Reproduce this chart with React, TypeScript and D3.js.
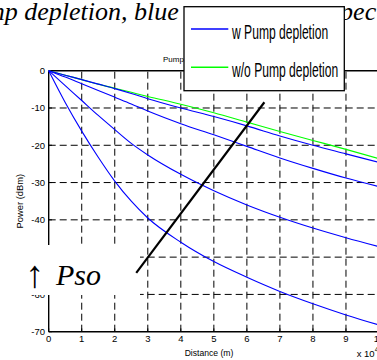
import React from "react";
import * as d3 from "d3";

// Distance samples (x 10^4 m) shared by every series
const distance = [0, 0.5, 1, 1.5, 2, 2.5, 3, 4, 5, 6, 7, 8, 9, 10];

// Signal power (dBm) with pump depletion, four launch conditions
const withDepletion1 = [0, -1.2, -2.4, -3.6, -4.8, -6.1, -7.5, -10.0, -12.3, -14.8, -17.5, -20.0, -22.3, -24.6];
const withDepletion2 = [0, -1.7, -3.5, -5.3, -7.1, -8.9, -10.8, -14.2, -17.2, -20.3, -23.4, -26.2, -28.8, -31.1];
const withDepletion3 = [0, -4.0, -8.0, -12.0, -15.8, -19.5, -22.6, -27.8, -32.2, -36.0, -39.3, -42.2, -44.8, -47.2];
const withDepletion4 = [0, -8.5, -16.2, -23.2, -29.6, -35.0, -39.5, -46.0, -51.2, -55.4, -59.2, -62.5, -65.5, -68.2];

// Signal power (dBm) without pump depletion
const withoutDepletion = [0, -1.2, -2.4, -3.6, -4.7, -5.8, -6.9, -9.0, -11.3, -13.8, -16.3, -18.7, -21.1, -23.6];

const xTicks = [0, 1, 2, 3, 4, 5, 6, 7, 8, 9, 10];
const yTicks = [0, -10, -20, -30, -40, -50, -60, -70];

const legendLabels = ["w Pump depletion", "w/o Pump depletion"];

// Annotation stroke drawn across the curves, in data units
const pointerX = [2.65, 6.53];
const pointerY = [-54.2, -8.47];

const W = 377;
const H = 360;
const SANS = "'Liberation Sans', Arial, Helvetica, sans-serif";
const SERIF = "'Liberation Serif', 'Times New Roman', serif";

export default function App() {
  const x = d3.scaleLinear().domain([0, 10]).range([48.7, 379]);
  const y = d3.scaleLinear().domain([-70, 0]).range([331.7, 70.7]);

  const line = d3
    .line<number>()
    .x((_, i) => x(distance[i]))
    .y((v) => y(v))
    .curve(d3.curveMonotoneX);

  const blues = [withDepletion1, withDepletion2, withDepletion3, withDepletion4];
  const [x0, x1] = x.range();
  const [yb, yt] = y.range();
  const dash = "7,4";

  return (
    <svg
      width={W}
      height={H}
      viewBox={`0 0 ${W} ${H}`}
      style={{ position: "absolute", left: 0, top: 0, background: "#fff" }}
    >
      <rect x={0} y={0} width={W} height={H} fill="#fff" />

      {/* caption text running above the figure */}
      <text x={-14} y={20} fontFamily={SERIF} fontStyle="italic" fontSize={26} fill="#000">
        mp depletion, blue
      </text>
      <text x={330} y={20} fontFamily={SERIF} fontStyle="italic" fontSize={26} fill="#000">
        specific
      </text>

      {/* axes title */}
      <text x={163} y={62} fontFamily={SANS} fontSize={8} fill="#000">
        Pump depletion effect on signal
      </text>

      {/* grid */}
      {xTicks.slice(1, -1).map((t) => (
        <line key={"gx" + t} x1={x(t)} x2={x(t)} y1={yb} y2={yt} stroke="#000" strokeWidth={1} strokeDasharray={dash} />
      ))}
      {yTicks.slice(1, -1).map((t) => (
        <line key={"gy" + t} x1={x0} x2={x1} y1={y(t)} y2={y(t)} stroke="#000" strokeWidth={1} strokeDasharray={dash} />
      ))}

      {/* axes box */}
      <line x1={x0} x2={x0} y1={yb} y2={yt} stroke="#000" strokeWidth={1.4} />
      <line x1={x0} x2={x1} y1={yb} y2={yb} stroke="#000" strokeWidth={1.4} />
      <line x1={x0} x2={x1} y1={yt} y2={yt} stroke="#000" strokeWidth={1.4} />
      {xTicks.map((t) => (
        <line key={"tx" + t} x1={x(t)} x2={x(t)} y1={yb} y2={yb - 3.3} stroke="#000" strokeWidth={1} />
      ))}
      {yTicks.map((t) => (
        <line key={"ty" + t} x1={x0} x2={x0 + 3.3} y1={y(t)} y2={y(t)} stroke="#000" strokeWidth={1} />
      ))}

      {/* tick labels */}
      {xTicks.map((t) => (
        <text key={"lx" + t} x={x(t)} y={342} textAnchor="middle" fontFamily={SANS} fontSize={9.5} fill="#000">
          {t}
        </text>
      ))}
      {yTicks.map((t) => (
        <text key={"ly" + t} x={45} y={y(t) + 3.4} textAnchor="end" fontFamily={SANS} fontSize={9.5} fill="#000">
          {t}
        </text>
      ))}
      <text x={356.7} y={357} fontFamily={SANS} fontSize={9.5} fill="#000">
        x 10
        <tspan fontSize={7} dy={-5}>4</tspan>
      </text>

      {/* axis labels */}
      <text x={209} y={356} textAnchor="middle" fontFamily={SANS} fontSize={8.6} fill="#000">
        Distance (m)
      </text>
      <text
        transform={`translate(23,${(yb + yt) / 2}) rotate(-90)`}
        textAnchor="middle"
        fontFamily={SANS}
        fontSize={9.4}
        fill="#000"
      >
        Power (dBm)
      </text>

      {/* curves */}
      <path d={line(withoutDepletion) ?? ""} fill="none" stroke="#00ff00" strokeWidth={1.1} />
      {blues.map((s, i) => (
        <path key={"b" + i} d={line(s) ?? ""} fill="none" stroke="#0000ff" strokeWidth={1.1} />
      ))}

      {/* Pso annotation */}
      <rect x={20} y={245} width={120} height={50} fill="#fff" />
      <line
        x1={x(pointerX[0])}
        y1={y(pointerY[0])}
        x2={x(pointerX[1])}
        y2={y(pointerY[1])}
        stroke="#000"
        strokeWidth={2.2}
      />
      <text x={25} y={287} fontFamily={SERIF} fontSize={38} fill="#000">
        ↑
      </text>
      <text x={56} y={285} fontFamily={SERIF} fontStyle="italic" fontSize={30} fill="#000">
        Pso
      </text>

      {/* legend */}
      <rect x={184} y={6.7} width={160.3} height={84} fill="#fff" stroke="#000" strokeWidth={1.3} />
      <line x1={191} x2={228.3} y1={29} y2={29} stroke="#0000ff" strokeWidth={1.6} />
      <line x1={191} x2={228.3} y1={67.3} y2={67.3} stroke="#00ff00" strokeWidth={1.6} />
      <text transform="translate(232,39.3) scale(0.605,1)" fontFamily={SANS} fontSize={20} fill="#000">
        {legendLabels[0]}
      </text>
      <text transform="translate(232,77.3) scale(0.605,1)" fontFamily={SANS} fontSize={20} fill="#000">
        {legendLabels[1]}
      </text>
    </svg>
  );
}
